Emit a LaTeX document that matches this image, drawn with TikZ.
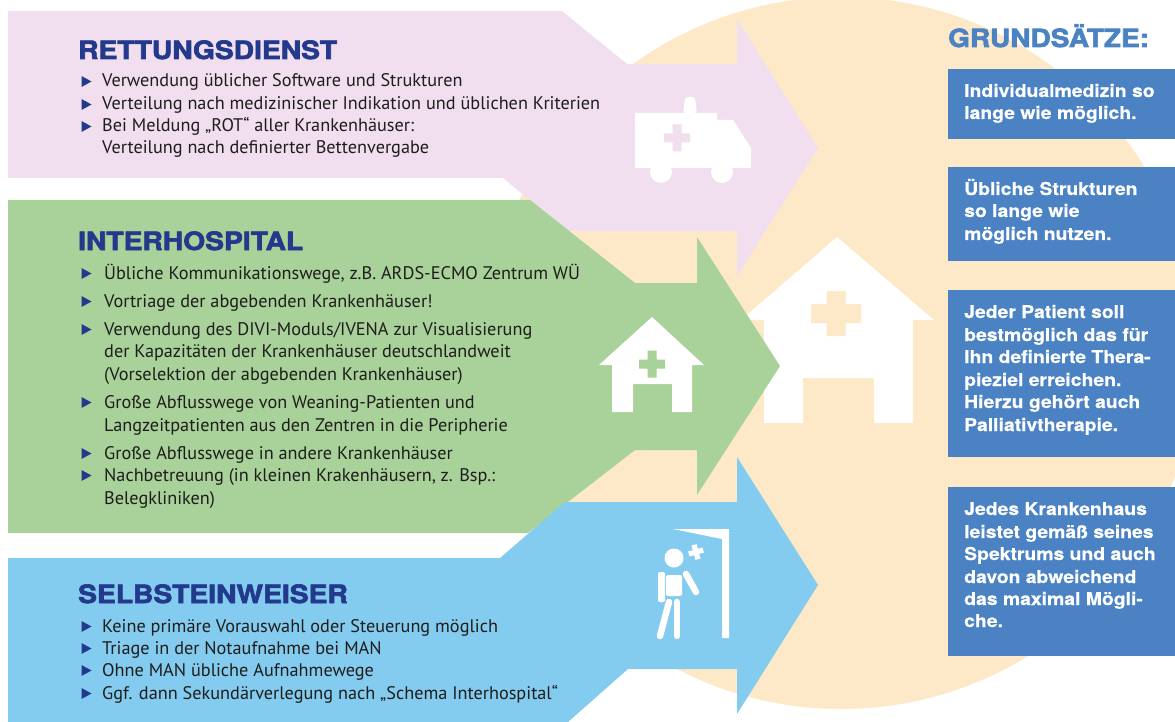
\documentclass[tikz,border=0pt]{standalone}
\usepackage{fontspec}
\setmainfont{PT Sans}
\newfontfamily\headfont[FakeBold=2.6,FakeStretch=1.12]{TeX Gyre Heros Bold}
\newfontfamily\boxfont[FakeStretch=1.1,FakeBold=0.4]{TeX Gyre Heros Bold}
\definecolor{pinkA}{HTML}{F1DFEF}
\definecolor{greenA}{HTML}{A9D19A}
\definecolor{blueA}{HTML}{84CCEF}
\definecolor{beigeA}{HTML}{FDE9C8}
\definecolor{boxA}{HTML}{4A82C4}
\definecolor{headA}{HTML}{23398C}
\definecolor{bodyA}{HTML}{1F1D1C}
\tikzset{
  body/.style={anchor=base west,inner sep=0pt,text=bodyA,font=\fontsize{18.25}{22}\selectfont},
  head/.style={anchor=base west,inner sep=0pt,text=headA,font=\headfont\fontsize{25.2}{28}\selectfont},
  boxtext/.style={anchor=base west,inner sep=0pt,text=white,font=\boxfont\fontsize{17.6}{20}\selectfont},
  grund/.style={anchor=base west,inner sep=0pt,text=boxA,font=\headfont\fontsize{25}{28}\selectfont},
  panel/.style={fill=boxA},
  icon/.style={fill=white}
}
\newcommand{\bulletmark}[2]{\fill[headA] (#1,#2-11) -- (#1+10,#2-5.5) -- (#1,#2) -- cycle;}
\newcommand{\crossmark}[5]{% cx cy halfw halfh halfthick
  \fill (#1-#5,#2-#4) -- (#1+#5,#2-#4) -- (#1+#5,#2-#5) -- (#1+#3,#2-#5) -- (#1+#3,#2+#5) -- (#1+#5,#2+#5) -- (#1+#5,#2+#4) -- (#1-#5,#2+#4) -- (#1-#5,#2+#5) -- (#1-#3,#2+#5) -- (#1-#3,#2-#5) -- (#1-#5,#2-#5) -- cycle;}
\begin{document}
\begin{tikzpicture}[x=1pt,y=-1pt]
\useasboundingbox (0,0) rectangle (1175,722);
% background circle
\fill[beigeA] (841,353) circle[radius=356];
% big house
\fill[icon] (837,237) -- (934,320) -- (913,320) -- (913,423) -- (874,423) -- (874,378) -- (803,378) -- (803,423) -- (764,423) -- (764,320) -- (741,320) -- cycle;
\begin{scope}[fill=beigeA]\crossmark{836}{313.5}{25}{22.5}{9.5}\end{scope}
% arrows
\fill[pinkA] (8,11) -- (562,11) -- (627,64) -- (737,64) -- (737,19) -- (818,148) -- (737,276) -- (737,231) -- (567,231) -- (503,178) -- (8,178) -- cycle;
\fill[greenA] (8,200) -- (530,200) -- (635,283) -- (697,283) -- (697,237) -- (780,366) -- (697,495) -- (697,450) -- (635,450) -- (528,533) -- (8,533) -- cycle;
\fill[blueA] (8,558) -- (500,558) -- (565,502) -- (737,502) -- (737,457) -- (818,585) -- (737,714) -- (737,669) -- (628,669) -- (568,722) -- (8,722) -- cycle;
% ambulance
\fill[icon] (635,113) -- (717,113) -- (717,120) -- (733,120) -- (751,148) -- (751,168) -- (635,168) -- cycle;
\fill[icon] (661,172) circle[radius=11] (722,172) circle[radius=11];
\fill[icon,rounded corners=3pt] (683,113) -- (685,97) -- (695,97) -- (697,113) -- cycle;
\begin{scope}[fill=pinkA]\crossmark{677}{138}{13}{13.5}{4.5}\end{scope}
% small house
\fill[icon] (652,317) -- (704,365) -- (692,365) -- (692,412) -- (672,412) -- (672,384) -- (633,384) -- (633,412) -- (612,412) -- (612,365) -- (599,365) -- cycle;
\begin{scope}[fill=greenA]\crossmark{652}{364}{13}{13.5}{4.5}\end{scope}
% walking person and door
\fill[icon] (673,529) -- (729,529) -- (729,638) -- (722,638) -- (722,539) -- cycle;
\fill[icon] (674,558) circle[radius=9.5];
\begin{scope}[rotate around={15:(696,552)},fill=white]\crossmark{696}{552}{7.5}{7.5}{2.6}\end{scope}
\fill[icon,rounded corners=2pt] (658,572) rectangle (665,602);
\fill[icon,rounded corners=2pt] (666,575) rectangle (682,596);
\draw[white,line width=6.5pt,line cap=round] (686,574) -- (696,592);
\draw[white,line width=6.5pt,line cap=round] (669,602) -- (660,636);
\draw[white,line width=6.5pt,line cap=round] (677,602) -- (677,636);
% right panels
\fill[panel] (948,69) rectangle (1175,139);
\fill[panel] (948,167) rectangle (1175,261);
\fill[panel] (948,290) rectangle (1175,457);
\fill[panel] (948,487) rectangle (1175,656);
% RETTUNGSDIENST
\node[head] (h1) at (78,59) {RETTUNGSDIENST};
\bulletmark{81.5}{87}\node[body] (r1) at (102,87) {Verwendung üblicher Software und Strukturen};
\bulletmark{81.5}{110}\node[body] (r2) at (102,110) {Verteilung nach medizinischer Indikation und üblichen Kriterien};
\bulletmark{81.5}{132}\node[body] (r3) at (102,132) {Bei Meldung „ROT“ aller Krankenhäuser:};
\node[body] (r4) at (102,154) {Verteilung nach definierter Bettenvergabe};
% INTERHOSPITAL
\node[head] (h2) at (78,250) {INTERHOSPITAL};
\bulletmark{81.5}{279}\node[body] (i1) at (104,279) {Übliche Kommunikationswege, z.B. ARDS-ECMO Zentrum WÜ};
\bulletmark{81.5}{307}\node[body] (i2) at (104,307) {Vortriage der abgebenden Krankenhäuser!};
\bulletmark{81.5}{335}\node[body] (i3) at (104,335) {Verwendung des DIVI-Moduls/IVENA zur Visualisierung};
\node[body] (i4) at (104,357) {der Kapazitäten der Krankenhäuser deutschlandweit};
\node[body] (i5) at (104,380) {(Vorselektion der abgebenden Krankenhäuser)};
\bulletmark{81.5}{408}\node[body] (i6) at (104,408) {Große Abflusswege von Weaning-Patienten und};
\node[body] (i7) at (104,431) {Langzeitpatienten aus den Zentren in die Peripherie};
\bulletmark{81.5}{459}\node[body] (i8) at (104,459) {Große Abflusswege in andere Krankenhäuser};
\bulletmark{81.5}{481}\node[body] (i9) at (104,481) {Nachbetreuung (in kleinen Krakenhäusern, z. Bsp.:};
\node[body] (i10) at (104,504) {Belegkliniken)};
% SELBSTEINWEISER
\node[head] (h3) at (78,603) {SELBSTEINWEISER};
\bulletmark{81.5}{632}\node[body] (s1) at (102,632) {Keine primäre Vorauswahl oder Steuerung möglich};
\bulletmark{81.5}{654}\node[body] (s2) at (102,654) {Triage in der Notaufnahme bei MAN};
\bulletmark{81.5}{676}\node[body] (s3) at (102,676) {Ohne MAN übliche Aufnahmewege};
\bulletmark{81.5}{699}\node[body] (s4) at (102,699) {Ggf. dann Sekundärverlegung nach „Schema Interhospital“};
% GRUNDSAETZE
\node[grund] (g0) at (948,47) {GRUNDSÄTZE:};
\node[boxtext] (a1) at (964,97) {Individualmedizin so};
\node[boxtext] (a2) at (964,119) {lange wie möglich.};
\node[boxtext] (b1) at (964,195) {Übliche Strukturen};
\node[boxtext] (b2) at (964,217) {so lange wie};
\node[boxtext] (b3) at (964,240) {möglich nutzen.};
\node[boxtext] (c1) at (964,318) {Jeder Patient soll};
\node[boxtext] (c2) at (964,341) {bestmöglich das für};
\node[boxtext] (c3) at (964,363) {Ihn definierte Thera-};
\node[boxtext] (c4) at (964,386) {pieziel erreichen.};
\node[boxtext] (c5) at (964,408) {Hierzu gehört auch};
\node[boxtext] (c6) at (964,431) {Palliativtherapie.};
\node[boxtext] (d1) at (964,515) {Jedes Krankenhaus};
\node[boxtext] (d2) at (964,538) {leistet gemäß seines};
\node[boxtext] (d3) at (964,560) {Spektrums und auch};
\node[boxtext] (d4) at (964,583) {davon abweichend};
\node[boxtext] (d5) at (964,605) {das maximal Mögli-};
\node[boxtext] (d6) at (964,627) {che.};
\end{tikzpicture}
\end{document}
